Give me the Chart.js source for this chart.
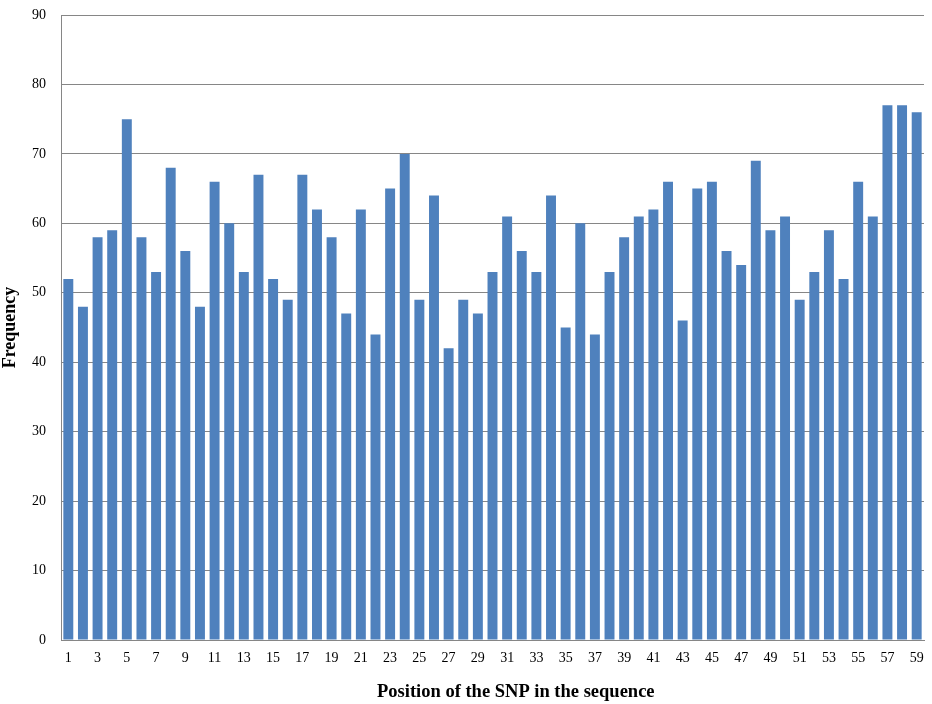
<!DOCTYPE html>
<html>
<head>
<meta charset="utf-8">
<script src="https://cdn.jsdelivr.net/npm/chart.js@4/dist/chart.umd.min.js"></script>
<style>
html,body{margin:0;padding:0;background:#fff;}
#wrap{width:932px;height:704px;}
</style>
</head>
<body>
<div id="wrap"><canvas id="c" width="932" height="704"></canvas></div>
<script>
const categories = Array.from({length:59},(_,i)=>String(i+1));
const frequency = [52,48,58,59,75,58,53,68,56,48,66,60,53,67,52,49,67,62,58,47,
                   62,44,65,70,49,64,42,49,47,53,61,56,53,64,45,60,44,53,58,61,
                   62,66,46,65,66,56,54,69,59,61,49,53,59,52,66,61,77,77,76];
const yTicks = [0,10,20,30,40,50,60,70,80,90];
const xTitle = "Position of the SNP in the sequence";
const yTitle = "Frequency";

const FONT = "'Times New Roman','Liberation Serif',serif";

const xTitlePlugin = {
  id:'xTitlePlugin',
  afterDraw(chart){
    const ctx = chart.ctx, a = chart.chartArea;
    ctx.save();
    ctx.font = "bold 18.5px " + FONT;
    ctx.fillStyle = '#000';
    ctx.textAlign = 'center';
    ctx.textBaseline = 'alphabetic';
    ctx.fillText(xTitle, a.left + (a.right - a.left) * 0.527, a.bottom + 57);
    ctx.restore();
  }
};

new Chart(document.getElementById('c'), {
  type:'bar',
  data:{labels:categories,datasets:[{data:frequency,backgroundColor:'#4F81BD',borderWidth:0,
        categoryPercentage:1,barPercentage:0.68}]},
  plugins:[xTitlePlugin],
  options:{
    responsive:false,animation:false,
    layout:{padding:{left:0,right:8,top:15,bottom:0}},
    plugins:{legend:{display:false},tooltip:{enabled:false}},
    scales:{
      x:{
        grid:{display:false,drawTicks:false},
        border:{display:true,color:'#868686',width:1},
        ticks:{autoSkip:false,maxRotation:0,padding:10,color:'#000',font:{family:FONT,size:14},
          callback:function(v,i){return i%2===0?categories[i]:'';}},
        title:{display:false},
        afterFit:function(s){s.height=64;s.paddingLeft=0;s.paddingRight=0;}
      },
      y:{
        min:0,max:90,
        afterBuildTicks:function(s){s.ticks=yTicks.map(v=>({value:v}));},
        grid:{color:'#868686',lineWidth:1,drawTicks:false},
        border:{display:true,color:'#868686',width:1},
        ticks:{padding:15,color:'#000',font:{family:FONT,size:14}},
        title:{display:true,text:yTitle,color:'#000',font:{family:FONT,size:18,weight:'bold'},padding:{top:0,bottom:4}},
        afterFit:function(s){s.width=61;s.paddingTop=0;s.paddingBottom=0;}
      }
    }
  }
});
</script>
</body>
</html>
